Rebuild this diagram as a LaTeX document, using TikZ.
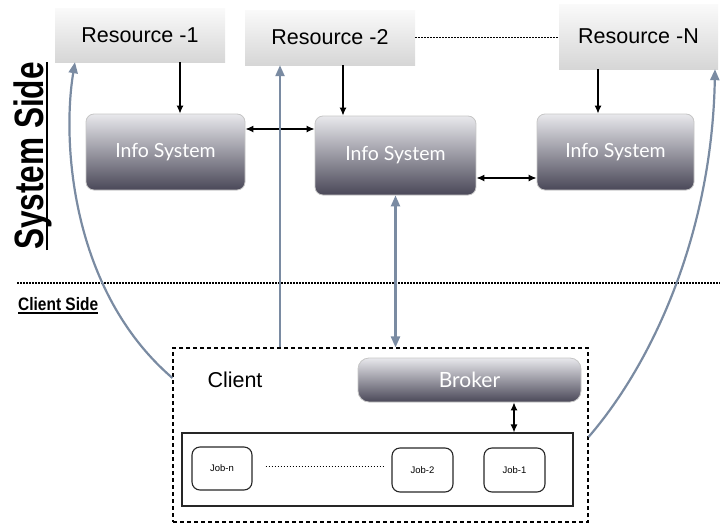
\documentclass[tikz,border=0pt]{standalone}
\usepackage{fontspec}
\setmainfont{Liberation Sans}
\newfontfamily\gill{Lato}
\usetikzlibrary{arrows.meta,shadings}
\definecolor{bluegray}{HTML}{7A8BA2}
\definecolor{istop}{HTML}{E8E8EC}
\definecolor{isbot}{HTML}{4A4858}
\tikzset{
  resbox/.style={draw=none,top color=gray!4,bottom color=gray!32,minimum width=#1,inner sep=0pt,
     font=\fontsize{21.5}{23}\selectfont},
  infobox/.style={draw=gray!45,line width=0.8pt,rounded corners=8pt,top color=istop,bottom color=isbot,
     text=white,font=\gill\fontsize{19.5}{21}\selectfont,inner sep=0pt},
  jobbox/.style={draw=black!85,line width=1.1pt,rounded corners=8pt,minimum width=60pt,minimum height=43pt,
     font=\fontsize{9.5}{11}\selectfont,inner sep=0pt},
  blk/.style={-{Latex[length=8pt,width=7pt]},line width=1.3pt},
  dblk/.style={{Latex[length=8pt,width=7pt]}-{Latex[length=8pt,width=7pt]},line width=1.3pt},
  bga/.style={-{Triangle[length=11pt,width=9pt]},line width=2.2pt,draw=bluegray,color=bluegray},
  dbga/.style={{Triangle[length=11pt,width=9pt]}-{Triangle[length=11pt,width=9pt]},line width=2.2pt,draw=bluegray,color=bluegray},
  dots/.style={line width=1.8pt,dash pattern=on 1.6pt off 1.4pt}
}
\begin{document}
\begin{tikzpicture}[x=1pt,y=-1pt]
\useasboundingbox (0,0) rectangle (720,525);
% resources
\node[resbox=170pt,minimum height=54pt] (res1) at (140,35) {Resource -1};
\node[resbox=170pt,minimum height=55pt] (res2) at (330,37.5) {Resource -2};
\node[resbox=159pt,minimum height=65pt] (resN) at (638.5,36.5) {Resource -N};
\draw[dots] (res2.east) -- (res2.east -| resN.west);
% info systems
\node[infobox,minimum width=159pt,minimum height=76pt] (is1) at (165.5,152) {Info System};
\node[infobox,minimum width=161pt,minimum height=79pt] (is2) at (395.5,155.5) {Info System};
\node[infobox,minimum width=157pt,minimum height=76pt] (is3) at (615.5,152) {Info System};
\draw[blk] ([xshift=40]res1.south) -- ([xshift=40]res1.south |- is1.north);
\draw[blk] ([xshift=13]res2.south) -- ([xshift=13]res2.south |- is2.north);
\draw[blk] ([xshift=-40.5]resN.south) -- ([xshift=-40.5]resN.south |- is3.north);
\draw[dblk] ([yshift=23]is1.east) -- ([yshift=23]is1.east -| is2.west);
\draw[dblk] ([yshift=-22.5]is2.east) -- ([yshift=-22.5]is2.east -| is3.west);
% side labels
\node[rotate=90,anchor=base,inner sep=0pt,font=\bfseries\fontsize{41}{41}\selectfont] (sys) at (43,156) {\scalebox{0.77}[1]{System Side}};
\draw[line width=1.6pt] (47,250) -- (47,62);
\draw[dots] (17,283) -- (720,283);
\node[anchor=base west,inner sep=0pt,font=\bfseries\fontsize{18}{18}\selectfont] (cls) at (18,310) {\scalebox{0.86}[1]{Client Side}};
\draw[line width=1.1pt] (18,313) -- (98,313);
% client
\node[draw,line width=1.1pt,dash pattern=on 4pt off 3pt,minimum width=415pt,minimum height=174pt,inner sep=0pt] (client) at (380.5,435) {};
\node[font=\fontsize{21.5}{23}\selectfont,inner sep=0pt] (clt) at (235,380) {Client};
\node[infobox,rounded corners=11pt,minimum width=223pt,minimum height=44pt,font=\gill\fontsize{21}{23}\selectfont] (broker) at (469.5,380) {Broker};
\node[draw=black!85,line width=1.1pt,minimum width=391pt,minimum height=73pt,inner sep=0pt] (jobs) at (377.5,469.5) {};
\node[jobbox] (jobn) at (222,468.5) {Job-n};
\node[jobbox,minimum width=61pt,minimum height=44pt] (job2) at (422.5,470) {Job-2};
\node[jobbox,minimum width=61pt,minimum height=44pt] (job1) at (514.5,470) {Job-1};
\draw[dots] ([xshift=13,yshift=2]jobn.east) -- ([xshift=-7,yshift=2]jobn.east -| job2.west);
\draw[dblk] ([xshift=44.5]broker.south) -- ([xshift=44.5]broker.south |- jobs.north);
\draw[dbga] (is2.south) -- (is2.south |- client.north);
% curved arrows
\draw[bga] ([yshift=57]client.west) .. controls (70,290) and (62,140) .. ([xshift=-65]res1.south);
\draw[bga] ([xshift=-100.5]client.north) -- ([xshift=-100.5]client.north |- res2.south);
\draw[bga] ([yshift=-2]client.east) .. controls (655,360) and (712,230) .. ([xshift=76.5]resN.south);
\end{tikzpicture}
\end{document}
